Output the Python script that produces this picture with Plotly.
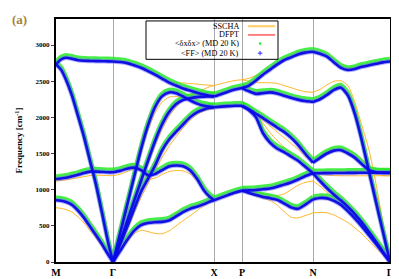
import plotly.graph_objects as go

# high-symmetry path
k_labels = ["M", "Γ", "X", "P", "N", "Γ"]
k_ticks = [0, 57, 158, 186, 257, 334]

# ---- segment M-Γ ----
k_MG = [0, 5, 10, 16, 22, 28, 34, 40, 46, 52, 57]
md_MG = [
    [2733, 2800, 2825, 2810, 2790, 2782, 2780, 2778, 2776, 2774, 2773],
    [2733, 2660, 2520, 2300, 2020, 1730, 1400, 1070, 680, 280, 0],
    [1147, 1155, 1165, 1185, 1205, 1230, 1250, 1250, 1245, 1240, 1240],
    [853, 848, 830, 790, 710, 610, 490, 370, 245, 107, 0],
]
ss_MG = [
    [2733, 2800, 2825, 2810, 2790, 2782, 2780, 2778, 2776, 2774, 2773],
    [2733, 2660, 2520, 2300, 2020, 1730, 1400, 1070, 680, 280, 0],
    [1120, 1125, 1135, 1150, 1165, 1180, 1195, 1200, 1198, 1195, 1192],
    [750, 742, 725, 690, 625, 540, 435, 330, 215, 95, 0],
]

# ---- segment Γ-X ----
k_GX = [57, 64, 71, 78, 85, 92, 99, 106, 113, 120, 127, 134, 141, 148, 153, 158]
md_GX = [
    [2773, 2765, 2750, 2720, 2685, 2640, 2590, 2535, 2480, 2440, 2400, 2370, 2340, 2315, 2300, 2290],
    [0, 390, 780, 1170, 1560, 1890, 2140, 2290, 2345, 2335, 2290, 2235, 2190, 2160, 2148, 2140],
    [0, 280, 560, 840, 1120, 1400, 1670, 1900, 2070, 2180, 2240, 2265, 2280, 2287, 2290, 2290],
    [0, 240, 480, 730, 970, 1150, 1330, 1540, 1690, 1800, 1900, 2000, 2070, 2110, 2130, 2140],
    [1240, 1260, 1290, 1305, 1270, 1200, 1215, 1270, 1320, 1335, 1325, 1270, 1150, 990, 910, 853],
    [0, 150, 300, 430, 510, 540, 550, 555, 575, 630, 690, 735, 765, 800, 830, 853],
]
ss_GX = [
    [2773, 2765, 2750, 2720, 2685, 2640, 2590, 2540, 2495, 2480, 2475, 2468, 2460, 2450, 2445, 2440],
    [0, 380, 760, 1140, 1500, 1820, 2060, 2210, 2280, 2290, 2270, 2240, 2200, 2170, 2150, 2130],
    [0, 270, 540, 810, 1080, 1350, 1600, 1830, 2010, 2140, 2230, 2290, 2340, 2390, 2420, 2440],
    [0, 220, 440, 670, 890, 1080, 1260, 1440, 1600, 1730, 1850, 1960, 2040, 2090, 2110, 2120],
    [1192, 1215, 1250, 1280, 1260, 1150, 1160, 1210, 1250, 1265, 1260, 1220, 1120, 980, 905, 853],
    [0, 140, 280, 390, 440, 420, 395, 390, 430, 500, 570, 640, 710, 780, 820, 853],
]

# ---- segment X-P ----
k_XP = [158, 165, 172, 179, 186]
md_XP = [
    [2290, 2320, 2355, 2385, 2405],
    [2140, 2148, 2155, 2160, 2160],
    [853, 890, 925, 960, 987],
]
ss_XP = [
    [2440, 2465, 2490, 2510, 2520],
    [2130, 2135, 2142, 2150, 2155],
    [853, 885, 920, 955, 987],
]

# ---- segment P-N ----
k_PN = [186, 193, 200, 207, 214, 221, 228, 235, 242, 249, 257]
md_PN = [
    [2405, 2440, 2510, 2590, 2660, 2730, 2790, 2830, 2870, 2895, 2907],
    [2405, 2360, 2325, 2335, 2345, 2330, 2300, 2270, 2245, 2225, 2213],
    [2160, 2110, 2050, 1990, 1925, 1860, 1800, 1720, 1620, 1500, 1373],
    [2160, 2100, 2000, 1780, 1650, 1570, 1520, 1460, 1400, 1320, 1227],
    [987, 990, 995, 1005, 1015, 1040, 1070, 1100, 1140, 1185, 1227],
    [987, 955, 925, 900, 882, 860, 810, 755, 735, 790, 867],
]
ss_PN = [
    [2520, 2540, 2580, 2630, 2690, 2750, 2800, 2840, 2875, 2898, 2907],
    [2520, 2500, 2480, 2480, 2478, 2470, 2440, 2410, 2380, 2355, 2347],
    [2155, 2100, 2030, 1960, 1880, 1800, 1720, 1640, 1560, 1460, 1390],
    [2155, 2110, 2040, 1920, 1790, 1680, 1590, 1500, 1420, 1330, 1240],
    [987, 975, 960, 945, 930, 920, 940, 1000, 1060, 1100, 1120],
    [987, 950, 915, 880, 850, 790, 700, 620, 610, 640, 680],
]

# ---- segment N-Γ ----
k_NG = [257, 264, 271, 278, 285, 292, 299, 306, 313, 320, 327, 334]
md_NG = [
    [2907, 2880, 2840, 2760, 2685, 2655, 2670, 2700, 2720, 2740, 2760, 2773],
    [2213, 2250, 2310, 2380, 2410, 2300, 2040, 1670, 1250, 830, 415, 0],
    [1373, 1440, 1500, 1540, 1545, 1500, 1440, 1350, 1270, 1240, 1232, 1230],
    [1227, 1228, 1229, 1230, 1231, 1232, 1233, 1234, 1235, 1236, 1236, 1236],
    [1227, 1120, 1020, 930, 850, 760, 660, 545, 415, 280, 140, 0],
    [867, 885, 880, 845, 790, 700, 600, 490, 370, 250, 125, 0],
]
ss_NG = [
    [2907, 2880, 2840, 2770, 2705, 2690, 2700, 2715, 2730, 2745, 2760, 2773],
    [2347, 2385, 2450, 2500, 2505, 2440, 2200, 1880, 1550, 1080, 540, 0],
    [1390, 1470, 1540, 1570, 1575, 1550, 1500, 1420, 1300, 1210, 1195, 1192],
    [1240, 1215, 1200, 1195, 1193, 1192, 1192, 1192, 1192, 1192, 1192, 1192],
    [1120, 1050, 960, 880, 800, 720, 630, 520, 400, 270, 135, 0],
    [680, 685, 680, 650, 600, 545, 470, 390, 290, 190, 95, 0],
]

legend_names = ["SSCHA", "DFPT", "&lt;δxδx&gt; (MD 20 K)", "&lt;FF&gt; (MD 20 K)"]
y_ticks = [0, 500, 1000, 1500, 2000, 2500, 3000]

segments_md = [(k_MG, md_MG), (k_GX, md_GX), (k_XP, md_XP), (k_PN, md_PN), (k_NG, md_NG)]
segments_ss = [(k_MG, ss_MG), (k_GX, ss_GX), (k_XP, ss_XP), (k_PN, ss_PN), (k_NG, ss_NG)]


def join(segments):
    xs, ys = [], []
    for ks, bands in segments:
        for b in bands:
            xs += list(ks) + [None]
            ys += list(b) + [None]
    return xs, ys


xm, ym = join(segments_md)
xs, ys = join(segments_ss)

fig = go.Figure()
common = dict(mode="lines", hoverinfo="skip", showlegend=False, connectgaps=False)
spl = dict(shape="spline", smoothing=0.6)
fig.add_trace(go.Scatter(x=xs, y=ys, line=dict(color="#ffb526", width=1, **spl), **common))
fig.add_trace(go.Scatter(x=xm, y=ym, line=dict(color="#ff2020", width=1.2, **spl), **common))
# green (δxδx) halo, drawn slightly lower through a shifted overlay axis
fig.add_trace(go.Scatter(x=xm, y=ym, yaxis="y2", line=dict(color="rgba(40,235,40,0.85)", width=4.5, **spl), **common))
# blue (FF) on top
fig.add_trace(go.Scatter(x=xm, y=ym, yaxis="y3", line=dict(color="rgba(110,110,255,0.55)", width=4.6, **spl), **common))
fig.add_trace(go.Scatter(x=xm, y=ym, yaxis="y3", line=dict(color="rgba(10,10,230,0.95)", width=2.6, **spl), **common))

serif = "Liberation Serif"
fig.update_layout(
    width=399, height=279,
    margin=dict(l=48, r=17, t=9, b=18),
    plot_bgcolor="white", paper_bgcolor="white",
    font=dict(family=serif, color="black"),
    showlegend=False,
    xaxis=dict(range=[0, 334], tickmode="array", tickvals=k_ticks, ticktext=k_labels,
               showgrid=True, gridcolor="#a8a8a8", gridwidth=1, zeroline=False,
               showline=True, mirror=True, linecolor="black", linewidth=2, ticks="",
               tickfont=dict(size=10, family=serif, weight="bold")),
    yaxis=dict(range=[0, 3360], tickmode="array", tickvals=y_ticks, showgrid=False, zeroline=False,
               showline=True, mirror=True, linecolor="black", linewidth=2,
               ticks="outside", ticklen=3, tickwidth=1,
               tickfont=dict(size=7, family=serif, weight="bold"),
               title=dict(text="Frequency [cm<sup>-1</sup>]", font=dict(size=9, family=serif, weight="bold"), standoff=11)),
    yaxis2=dict(range=[-35, 3325], overlaying="y", visible=False),
    yaxis3=dict(range=[0, 3360], overlaying="y", visible=False),
)

# panel label
fig.add_annotation(text="<b>(a)</b>", xref="paper", yref="paper", x=-0.137, y=1.035,
                   xanchor="left", yanchor="top", showarrow=False,
                   font=dict(size=13, family=serif, color="#a38436"))

# legend box (drawn manually, symbols on the right as in the original)
fig.add_shape(type="rect", xref="paper", yref="paper", x0=0.2695, x1=0.6647, y0=0.834, y1=0.992,
              line=dict(color="black", width=1), fillcolor="rgba(0,0,0,0)")
rows = [0.9702, 0.9345, 0.8988, 0.8595]
for name, yy in zip(legend_names, rows):
    fig.add_annotation(text=name, xref="paper", yref="paper", x=0.5524, y=yy,
                       xanchor="right", yanchor="middle", showarrow=False,
                       font=dict(size=8.2, family=serif, color="black"))
fig.add_shape(type="line", xref="paper", yref="paper", x0=0.575, x1=0.656, y0=rows[0], y1=rows[0],
              line=dict(color="#ffcc66", width=2))
fig.add_shape(type="line", xref="paper", yref="paper", x0=0.575, x1=0.656, y0=rows[1], y1=rows[1],
              line=dict(color="#ff8080", width=2))
# green dot sample
fig.add_shape(type="circle", xref="paper", yref="paper", x0=0.607, x1=0.615,
              y0=rows[2] - 0.0055, y1=rows[2] + 0.0055, line=dict(width=0), fillcolor="#33ee33")
# blue plus sample
fig.add_shape(type="line", xref="paper", yref="paper", x0=0.604, x1=0.618, y0=rows[3], y1=rows[3],
              line=dict(color="#3030ff", width=1))
fig.add_shape(type="line", xref="paper", yref="paper", x0=0.611, x1=0.611, y0=rows[3] - 0.009,
              y1=rows[3] + 0.009, line=dict(color="#3030ff", width=1))

fig.write_html("out.html")
